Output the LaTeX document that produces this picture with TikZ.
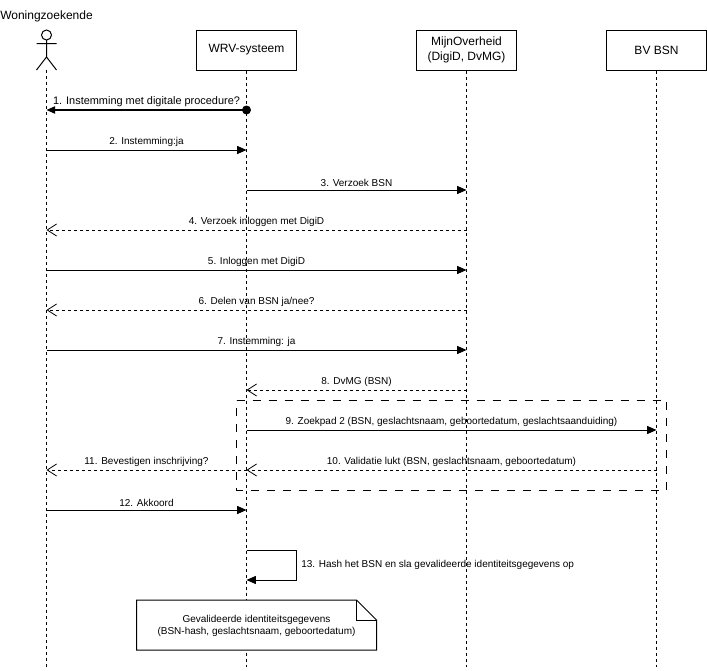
\documentclass[tikz,border=0pt]{standalone}
\usepackage{fontspec}
\setmainfont{Liberation Sans}
\usetikzlibrary{arrows.meta}
\tikzset{
  lifebox/.style={draw,fill=white,line width=0.75pt,minimum width=75pt,minimum height=30pt,inner sep=0pt,align=center,font=\fontsize{9}{11}\selectfont},
  lifeline/.style={line width=0.75pt,dash pattern=on 2.25pt off 2.25pt},
  msg/.style={line width=0.75pt,-{Triangle[length=7pt,width=6pt]}},
  retmsg/.style={line width=0.75pt,dash pattern=on 2.25pt off 2.25pt,-{Straight Barb[length=7pt,width=9pt,line width=0.6pt]}},
  msglabel/.style={font=\fontsize{7.5}{9}\selectfont,inner sep=0pt,above=2pt}
}
\begin{document}
\begin{tikzpicture}[x=0.75pt,y=-0.75pt]
  \useasboundingbox (0,0) rectangle (707,671);
  % lifelines
  \node[inner sep=0pt,anchor=west,font=\fontsize{9}{11}\selectfont] (woning) at (0,16) {Woningzoekende};
  \coordinate (actor) at (46.5,70);
  \node[lifebox] (wrv) at (246.5,50) {WRV-systeem};
  \node[lifebox] (mijn) at (466.5,50) {MijnOverheid\\(DigiD, DvMG)};
  \node[lifebox] (bv) at (656.5,50) {BV BSN};
  \foreach \n in {actor,wrv,mijn,bv}
    \draw[lifeline] (\n) -- (\n |- 0,667);
  % actor
  \coordinate (head) at (46.5,35);
  \coordinate (neck) at (46.5,40);
  \coordinate (hip) at (46.5,57);
  \draw[line width=0.75pt,fill=white] (head) circle (5);
  \draw[line width=0.75pt] (neck) -- (hip) (36.5,43.5) -- (56.5,43.5) (36.5,70) -- (hip) -- (56.5,70);
  % rows
  \foreach \r/\y in {1/110,2/150,3/190,4/230,5/270,6/310,7/350,8/390,9/430,10/470,12/510,13/550,14/580} {
    \coordinate (a\r) at (46.5,\y);
    \coordinate (w\r) at (246.5,\y);
    \coordinate (m\r) at (466.5,\y);
    \coordinate (b\r) at (656.5,\y);
  }
  % messages
  \draw[line width=0.9pt,-{Triangle[length=6.5pt,width=5.5pt]}] (w1) -- node[msglabel,font=\fontsize{8.2}{10}\selectfont,above=0pt] {1. Instemming met digitale procedure?} (a1);
  \fill (w1) circle (4.5);
  \draw[msg] (a2) -- node[msglabel] {2. Instemming:ja} (w2);
  \draw[msg] (w3) -- node[msglabel] {3. Verzoek BSN} (m3);
  \draw[retmsg] (m4) -- node[msglabel] {4. Verzoek inloggen met DigiD} (a4);
  \draw[msg] (a5) -- node[msglabel] {5. Inloggen met DigiD} (m5);
  \draw[retmsg] (m6) -- node[msglabel] {6. Delen van BSN ja/nee?} (a6);
  \draw[msg] (a7) -- node[msglabel] {7. Instemming: ja} (m7);
  \draw[retmsg] (m8) -- node[msglabel] {8. DvMG (BSN)} (w8);
  \draw[msg] (w9) -- node[msglabel] {9. Zoekpad 2 (BSN, geslachtsnaam, geboortedatum, geslachtsaanduiding)} (b9);
  \draw[retmsg] (b10) -- node[msglabel] {10. Validatie lukt (BSN, geslachtsnaam, geboortedatum)} (w10);
  \draw[retmsg] (w10) -- node[msglabel] {11. Bevestigen inschrijving?} (a10);
  \draw[msg] (a12) -- node[msglabel] {12. Akkoord} (w12);
  \coordinate (turna) at (296.5,550);
  \coordinate (turnb) at (296.5,580);
  \draw[msg] (w13) -- (turna) -- (turnb) -- (w14);
  \node[inner sep=0pt,anchor=west,font=\fontsize{7.5}{9}\selectfont] (hash) at (301,565) {13. Hash het BSN en sla gevalideerde identiteitsgegevens op};
  % frame
  \draw[line width=0.75pt,dash pattern=on 6pt off 6pt] (236.5,400) -- (666.5,400) -- (666.5,490) -- (236.5,490) -- cycle;
  % note
  \draw[line width=0.75pt,fill=white] (136.5,600) -- (356.5,600) -- (376.5,620) -- (376.5,650) -- (136.5,650) -- cycle;
  \draw[line width=0.75pt] (356.5,600) -- (356.5,620) -- (376.5,620);
  \node[inner sep=0pt,align=center,font=\fontsize{7.5}{9}\selectfont] (note) at (256.5,626) {Gevalideerde identiteitsgegevens\\(BSN-hash, geslachtsnaam, geboortedatum)};
\end{tikzpicture}
\end{document}
